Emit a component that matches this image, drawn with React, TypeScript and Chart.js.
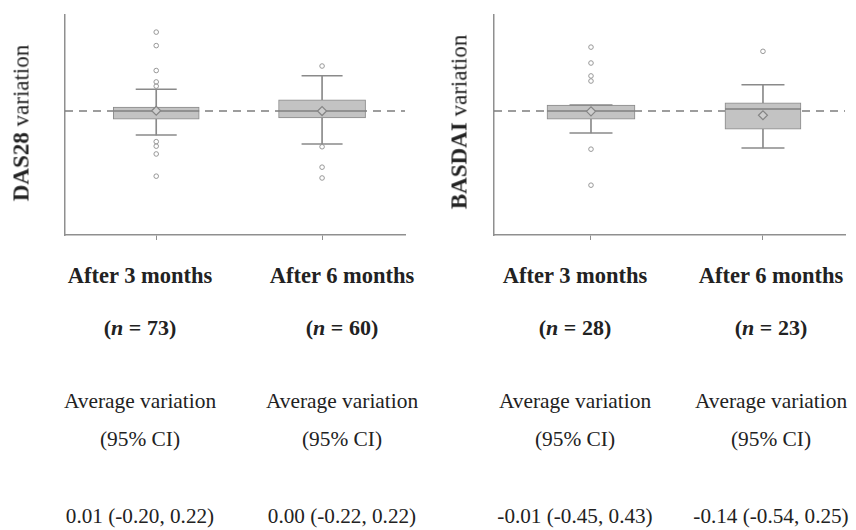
import React, { useEffect, useRef } from "react";
import { Chart, registerables } from "chart.js";

Chart.register(...registerables);

// ---------- data ----------
const categories = ["After 3 months", "After 6 months"];

const das28N = [73, 60];
const das28Avg = ["0.01 (-0.20, 0.22)", "0.00 (-0.22, 0.22)"];
const das28Q1 = [-0.27, -0.23];
const das28Q3 = [0.13, 0.37];
const das28Median = [0.0, 0.0];
const das28Mean = [0.01, 0.0];
const das28WhiskerLow = [-0.8, -1.1];
const das28WhiskerHigh = [0.73, 1.18];
const das28Outliers = [
  [2.63, 2.18, 1.35, 0.97, 0.83, -1.02, -1.17, -1.43, -2.17],
  [1.5, -1.19, -1.87, -2.23],
];

const basdaiN = [28, 23];
const basdaiAvg = ["-0.01 (-0.45, 0.43)", "-0.14 (-0.54, 0.25)"];
const basdaiQ1 = [-0.27, -0.6];
const basdaiQ3 = [0.2, 0.27];
const basdaiMedian = [0.0, 0.07];
const basdaiMean = [-0.01, -0.14];
const basdaiWhiskerLow = [-0.73, -1.23];
const basdaiWhiskerHigh = [0.2, 0.88];
const basdaiOutliers = [[2.13, 1.6, 1.17, 1.0, -1.27, -2.47], [1.99]];

// ---------- styles ----------
const BOX_FILL = "#c3c3c3";
const LINE = "#8a8a8a";
const AXIS = "#8f8f8f";
const SERIF = '"Liberation Serif", "Times New Roman", serif';

type Panel = {
  q1: number[];
  q3: number[];
  median: number[];
  mean: number[];
  wLow: number[];
  wHigh: number[];
  outliers: number[][];
  boxWidths: number[];
  capRadius: number;
  xMin: number;
  xMax: number;
  yMin: number;
  yMax: number;
  axisWidth: number;
  padRight: number;
};

function buildConfig(p: Panel): any {
  const idx = categories.map((_, i) => i);
  const datasets: any[] = [];

  // dashed zero reference line
  datasets.push({
    type: "line",
    data: [
      { x: p.xMin, y: 0 },
      { x: p.xMax, y: 0 },
    ],
    borderColor: "#7d7d7d",
    borderWidth: 1.5,
    borderDash: [8, 6],
    pointRadius: 0,
    order: 9,
  });

  // whiskers (thin floating bars)
  datasets.push({
    type: "bar",
    data: idx.map((i) => ({ x: i, y: [p.wLow[i], p.wHigh[i]] })),
    backgroundColor: LINE,
    borderWidth: 0,
    barThickness: 1,
    grouped: false,
    order: 8,
  });

  // boxes (one dataset per category so widths can differ)
  idx.forEach((i) => {
    datasets.push({
      type: "bar",
      data: [{ x: i, y: [p.q1[i], p.q3[i]] }],
      backgroundColor: BOX_FILL,
      borderColor: LINE,
      borderWidth: 1,
      borderSkipped: false,
      barThickness: p.boxWidths[i],
      grouped: false,
      order: 7,
    });
  });

  // whisker caps
  datasets.push({
    type: "scatter",
    data: idx.flatMap((i) => [
      { x: i, y: p.wLow[i] },
      { x: i, y: p.wHigh[i] },
    ]),
    pointStyle: "line",
    pointRadius: p.capRadius,
    borderColor: LINE,
    borderWidth: 1.5,
    order: 6,
  });

  // medians
  datasets.push({
    type: "scatter",
    data: idx.map((i) => ({ x: i, y: p.median[i] })),
    pointStyle: "line",
    pointRadius: idx.map((i) => p.boxWidths[i] / 2),
    borderColor: "#808080",
    borderWidth: 1.5,
    order: 5,
  });

  // means
  datasets.push({
    type: "scatter",
    data: idx.map((i) => ({ x: i, y: p.mean[i] })),
    pointStyle: "rectRot",
    pointRadius: 4.5,
    backgroundColor: "#cdcdcd",
    borderColor: "#858585",
    borderWidth: 1.2,
    order: 4,
  });

  // outliers
  datasets.push({
    type: "scatter",
    data: idx.flatMap((i) => p.outliers[i].map((v) => ({ x: i, y: v }))),
    pointStyle: "circle",
    pointRadius: 2.3,
    backgroundColor: "rgba(255,255,255,0)",
    borderColor: "#979797",
    borderWidth: 1,
    order: 3,
  });

  return {
    type: "bar",
    data: { datasets },
    options: {
      animation: false,
      responsive: false,
      maintainAspectRatio: false,
      layout: {
        autoPadding: false,
        padding: { top: 15, right: p.padRight, left: 0, bottom: 0 },
      },
      plugins: { legend: { display: false }, tooltip: { enabled: false } },
      scales: {
        x: {
          type: "linear",
          min: p.xMin,
          max: p.xMax,
          offset: false,
          grid: {
            display: true,
            offset: false,
            drawOnChartArea: false,
            drawTicks: true,
            tickLength: 5,
            color: AXIS,
          },
          border: { display: true, color: AXIS, width: 1.5 },
          ticks: { display: false },
          afterBuildTicks: (s: any) => {
            s.ticks = idx.map((i) => ({ value: i }));
          },
          afterFit: (s: any) => {
            s.height = 15;
          },
        },
        y: {
          type: "linear",
          min: p.yMin,
          max: p.yMax,
          grid: { display: false, drawTicks: false },
          border: { display: true, color: AXIS, width: 1.5 },
          ticks: { display: false },
          afterFit: (s: any) => {
            s.width = p.axisWidth;
          },
        },
      },
    },
  };
}

const leftPanel: Panel = {
  q1: das28Q1,
  q3: das28Q3,
  median: das28Median,
  mean: das28Mean,
  wLow: das28WhiskerLow,
  wHigh: das28WhiskerHigh,
  outliers: das28Outliers,
  boxWidths: [86, 87],
  capRadius: 20.5,
  xMin: -0.55,
  xMax: 1.5,
  yMin: -4.13,
  yMax: 3.2,
  axisWidth: 65,
  padRight: 15,
};

const rightPanel: Panel = {
  q1: basdaiQ1,
  q3: basdaiQ3,
  median: basdaiMedian,
  mean: basdaiMean,
  wLow: basdaiWhiskerLow,
  wHigh: basdaiWhiskerHigh,
  outliers: basdaiOutliers,
  boxWidths: [88, 76],
  capRadius: 21.5,
  xMin: -0.564,
  xMax: 1.477,
  yMin: -4.13,
  yMax: 3.2,
  axisWidth: 74,
  padRight: 11,
};

function ChartCanvas({ panel, left, width }: { panel: Panel; left: number; width: number }) {
  const ref = useRef<HTMLCanvasElement | null>(null);
  useEffect(() => {
    if (!ref.current) return;
    const chart = new Chart(ref.current, buildConfig(panel));
    return () => chart.destroy();
  }, [panel]);
  return (
    <canvas
      ref={ref}
      width={width}
      height={250}
      style={{ position: "absolute", left, top: 0, width, height: 250 }}
    />
  );
}

function TextAt({ x, y, children, style }: { x: number; y: number; children: any; style?: any }) {
  return (
    <div
      style={{
        position: "absolute",
        left: x,
        top: y,
        transform: "translate(-50%, -50%)",
        whiteSpace: "nowrap",
        lineHeight: 1,
        fontFamily: SERIF,
        color: "#222",
        ...style,
      }}
    >
      {children}
    </div>
  );
}

function YTitle({ x, y, bold, rest }: { x: number; y: number; bold: string; rest: string }) {
  return (
    <div
      style={{
        position: "absolute",
        left: x,
        top: y,
        transform: "translate(-50%, -50%) rotate(-90deg)",
        whiteSpace: "nowrap",
        lineHeight: 1,
        fontFamily: SERIF,
        fontSize: 23,
        color: "#222",
      }}
    >
      <span style={{ fontWeight: "bold" }}>{bold}</span>
      <span>{rest}</span>
    </div>
  );
}

function Column({ x, title, n, avg }: { x: number; title: string; n: number; avg: string }) {
  return (
    <>
      <TextAt x={x} y={276} style={{ fontWeight: "bold", fontSize: 22.5 }}>
        {title}
      </TextAt>
      <TextAt x={x} y={328} style={{ fontWeight: "bold", fontSize: 22 }}>
        (<i>n</i> = {n})
      </TextAt>
      <TextAt x={x} y={402} style={{ fontSize: 21.4 }}>
        Average variation
      </TextAt>
      <TextAt x={x} y={440} style={{ fontSize: 21.4 }}>
        (95% CI)
      </TextAt>
      <TextAt x={x} y={517} style={{ fontSize: 21.2 }}>
        {avg}
      </TextAt>
    </>
  );
}

export default function App() {
  useEffect(() => {
    document.body.style.margin = "0";
    document.body.style.background = "#fff";
  }, []);
  const leftCols = [140, 342];
  const rightCols = [575, 771];
  return (
    <div style={{ position: "relative", width: 856, height: 530, overflow: "hidden", background: "#fff" }}>
      <ChartCanvas panel={leftPanel} left={0} width={420} />
      <ChartCanvas panel={rightPanel} left={420} width={436} />
      <YTitle x={21} y={123} bold="DAS28" rest=" variation" />
      <YTitle x={459} y={122} bold="BASDAI" rest=" variation" />
      {categories.map((c, i) => (
        <Column key={"l" + i} x={leftCols[i]} title={c} n={das28N[i]} avg={das28Avg[i]} />
      ))}
      {categories.map((c, i) => (
        <Column key={"r" + i} x={rightCols[i]} title={c} n={basdaiN[i]} avg={basdaiAvg[i]} />
      ))}
    </div>
  );
}
